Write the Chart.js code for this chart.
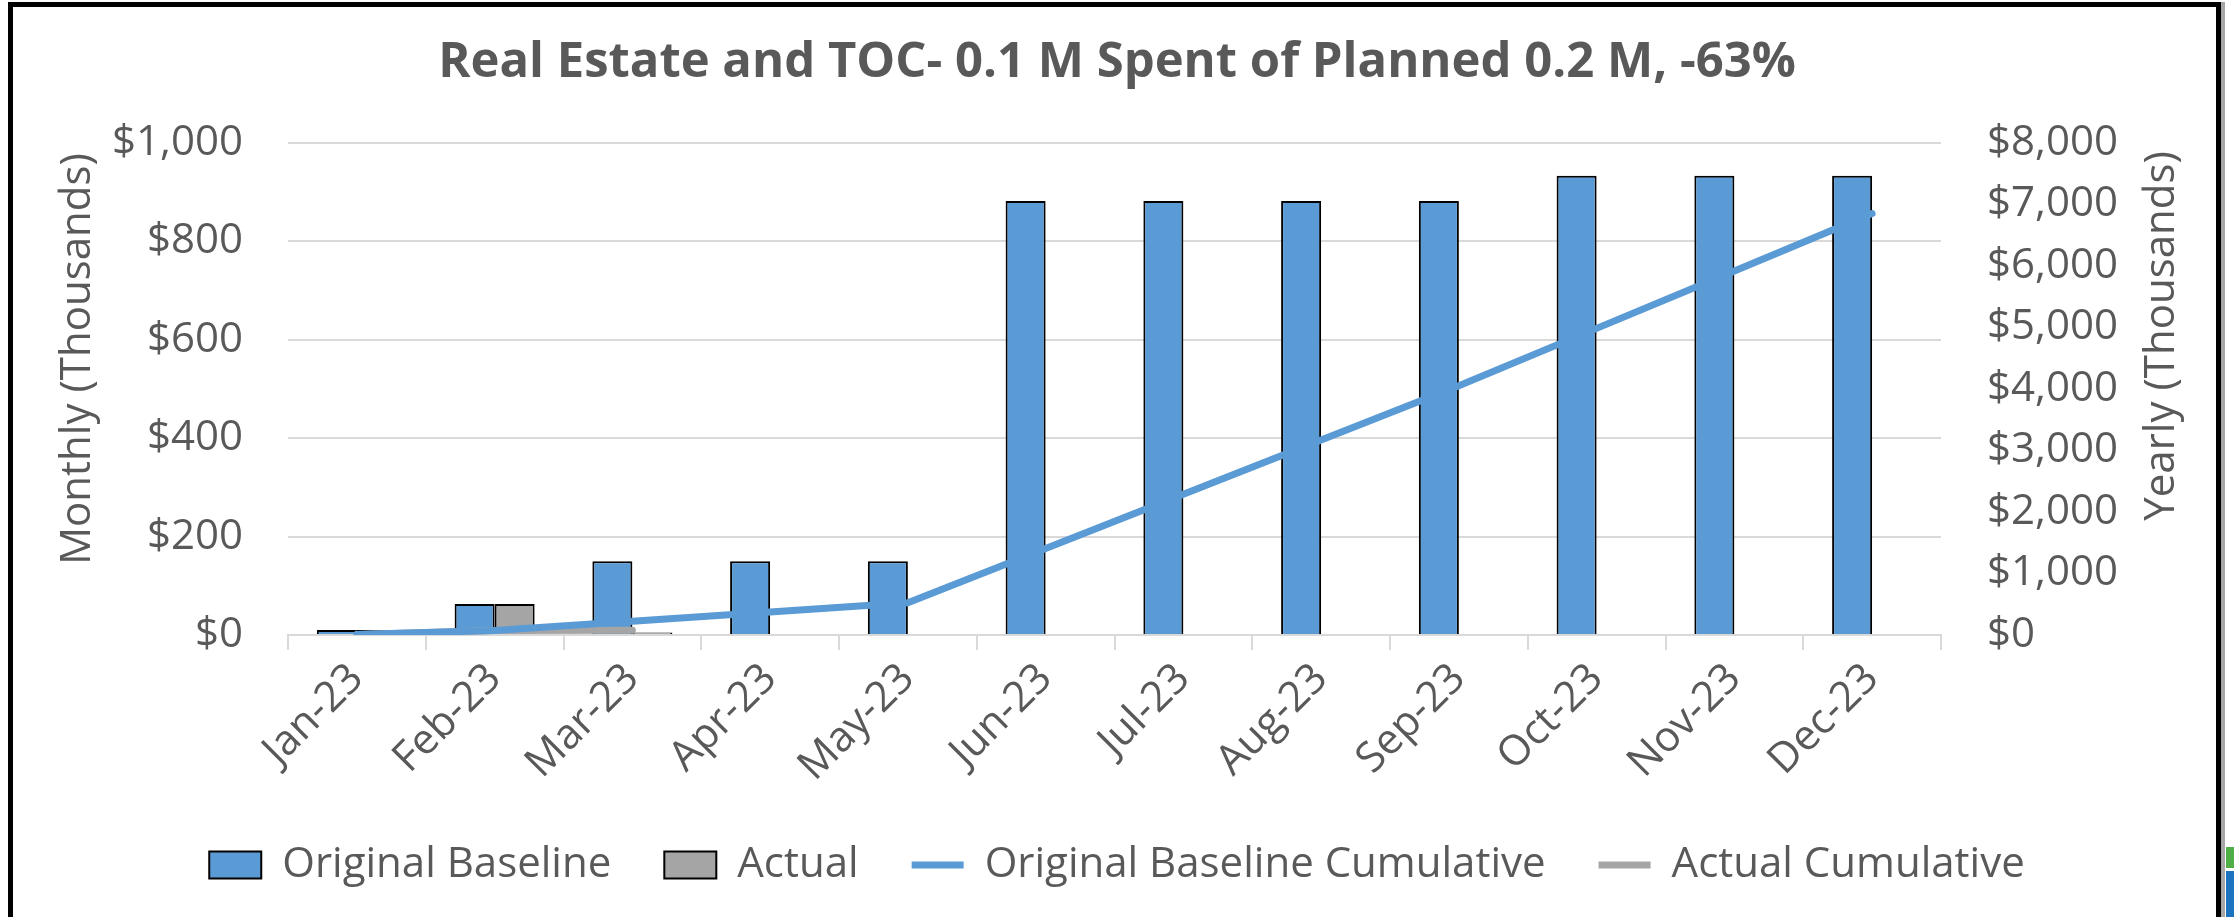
<!DOCTYPE html>
<html><head><meta charset="utf-8">
<script src="https://cdn.jsdelivr.net/npm/chart.js@4.4.0/dist/chart.umd.min.js"></script>
<style>
html,body{margin:0;padding:0;background:#fff;overflow:hidden;}
#wrap{position:relative;width:2234px;height:917px;}
canvas{position:absolute;left:0;top:0;}
#frame{position:absolute;left:8px;top:2px;width:2203px;height:960px;border:5px solid #000;box-shadow:4px 0 0 #A6A6A6;pointer-events:none;}
#g{position:absolute;left:2226px;top:847px;width:8px;height:21px;background:#4DAF45;}
#b{position:absolute;left:2226px;top:871px;width:8px;height:46px;background:#1E73BE;}
</style></head>
<body><div id="wrap"><canvas id="c" width="2234" height="917"></canvas><div id="frame"></div><div id="g"></div><div id="b"></div></div>
<script>
// ---- data (thousands of $) ----
const categories = ['Jan-23','Feb-23','Mar-23','Apr-23','May-23','Jun-23','Jul-23','Aug-23','Sep-23','Oct-23','Nov-23','Dec-23'];
const originalBaseline = [10, 63, 150, 150, 150, 882, 882, 882, 882, 933, 933, 933];
const actual = [10, 63, 5, null, null, null, null, null, null, null, null, null];
const originalBaselineCumulative = [10, 73, 223, 373, 523, 1405, 2287, 3169, 4051, 4984, 5917, 6850];
const actualCumulative = [10, 73, 78, null, null, null, null, null, null, null, null, null];
const monthlyTicks = [0, 200, 400, 600, 800, 1000];
const yearlyTicks = [0, 1000, 2000, 3000, 4000, 5000, 6000, 7000, 8000];
const titleText = 'Real Estate and TOC- 0.1 M Spent of Planned 0.2 M, -63%';
const leftAxisTitle = 'Monthly (Thousands)';
const rightAxisTitle = 'Yearly (Thousands)';

const TXT = '#595959';
const FONT = "'Open Sans', 'DejaVu Sans', sans-serif";
const money = v => '$' + Number(v).toLocaleString('en-US');

const axisTitles = {
  id: 'axisTitles',
  afterDraw(chart, args, opts) {
    const ctx = chart.ctx, area = chart.chartArea;
    ctx.save();
    ctx.font = opts.size + 'px ' + FONT;
    ctx.fillStyle = TXT;
    ctx.textAlign = 'center';
    ctx.textBaseline = 'middle';
    for (const t of opts.items) {
      const s = chart.scales[t.scaleId];
      const x = t.side === 'left' ? s.left + t.inset : s.right - t.inset;
      const y = (area.top + area.bottom) / 2 + t.shift;
      ctx.save(); ctx.translate(x, y); ctx.rotate(-Math.PI / 2);
      ctx.fillText(t.text, 0, 0); ctx.restore();
    }
    ctx.restore();
  }
};

new Chart(document.getElementById('c'), {
  data: {
    labels: categories,
    datasets: [
      { type: 'bar', label: 'Original Baseline', data: originalBaseline, yAxisID: 'y',
        backgroundColor: '#5B9BD5', borderColor: '#000000', borderWidth: 2, order: 1,
        categoryPercentage: 0.581, barPercentage: 1, pointStyle: 'rect' },
      { type: 'bar', label: 'Actual', data: actual, yAxisID: 'y',
        backgroundColor: '#A5A5A5', borderColor: '#000000', borderWidth: 2, order: 1,
        categoryPercentage: 0.581, barPercentage: 1, pointStyle: 'rect' },
      { type: 'line', label: 'Original Baseline Cumulative', data: originalBaselineCumulative, yAxisID: 'y1',
        borderColor: '#5B9BD5', backgroundColor: '#5B9BD5', borderWidth: 7, pointRadius: 0,
        borderCapStyle: 'round', borderJoinStyle: 'round', tension: 0, order: 0, pointStyle: 'line' },
      { type: 'line', label: 'Actual Cumulative', data: actualCumulative, yAxisID: 'y1',
        borderColor: '#A5A5A5', backgroundColor: '#A5A5A5', borderWidth: 7, pointRadius: 0,
        borderCapStyle: 'round', borderJoinStyle: 'round', tension: 0, order: 0, pointStyle: 'line' }
    ]
  },
  options: {
    responsive: false,
    animation: false,
    devicePixelRatio: 1,
    layout: { padding: { top: 0, left: 0, right: 0, bottom: 21 } },
    plugins: {
      tooltip: { enabled: false },
      title: { display: true, text: titleText, color: TXT,
        font: { family: FONT, size: 49, weight: 'bold' }, padding: { top: 34, bottom: 50 } },
      legend: { position: 'bottom',
        labels: { color: TXT, font: { family: FONT, size: 42 }, usePointStyle: true,
          pointStyleWidth: 52, boxHeight: 27, padding: 53,
          sort: (a, b) => a.datasetIndex - b.datasetIndex } },
      axisTitles: { size: 42, items: [
        { scaleId: 'y', side: 'left', inset: 78, shift: -30, text: leftAxisTitle },
        { scaleId: 'y1', side: 'right', inset: 72, shift: -53, text: rightAxisTitle } ] }
    },
    scales: {
      x: { type: 'category', offset: true,
        grid: { display: true, drawOnChartArea: false, drawTicks: true, tickLength: 15, color: '#D9D9D9', lineWidth: 2, offset: true },
        border: { display: true, color: '#D9D9D9', width: 2 },
        ticks: { color: TXT, font: { family: FONT, size: 42 }, minRotation: 45, maxRotation: 45, autoSkip: false, padding: 4 },
        afterFit: s => { s.height = 156; } },
      y: { position: 'left', min: 0, max: 1000,
        afterBuildTicks: s => { s.ticks = monthlyTicks.map(v => ({ value: v })); },
        grid: { color: '#D9D9D9', lineWidth: 2, drawTicks: false },
        border: { display: false },
        ticks: { color: TXT, font: { family: FONT, size: 42 }, padding: 45, callback: money },
        afterFit: s => { s.width = 288; } },
      y1: { position: 'right', min: 0, max: 8000,
        afterBuildTicks: s => { s.ticks = yearlyTicks.map(v => ({ value: v })); },
        grid: { drawOnChartArea: false, drawTicks: false },
        border: { display: false },
        ticks: { color: TXT, font: { family: FONT, size: 42 }, padding: 46, callback: money },
        afterFit: s => { s.width = 293; } }
    }
  },
  plugins: [axisTitles]
});
</script>
</body></html>
